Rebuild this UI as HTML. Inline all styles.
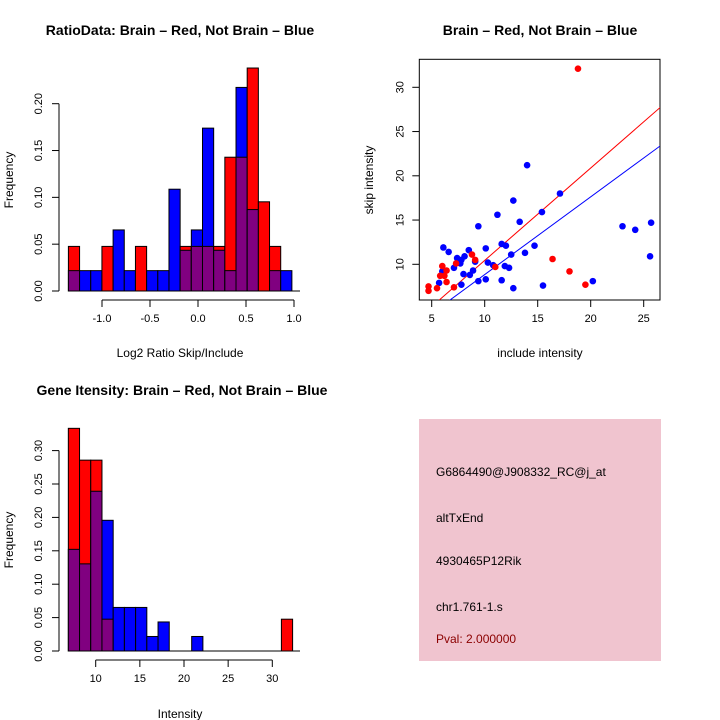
<!DOCTYPE html>
<html><head><meta charset="utf-8"><style>
html,body{margin:0;padding:0;background:#fff;}
svg{display:block;font-family:"Liberation Sans",sans-serif;}
</style></head><body>
<svg id="s" width="720" height="720" viewBox="0 0 720 720">
<rect width="720" height="720" fill="#fff"/>
<text x="180" y="35" text-anchor="middle" font-size="14" font-weight="bold">RatioData: Brain – Red, Not Brain – Blue</text>
<text x="540" y="35" text-anchor="middle" font-size="14" font-weight="bold">Brain – Red, Not Brain – Blue</text>
<text x="182" y="395" text-anchor="middle" font-size="14" font-weight="bold">Gene Itensity: Brain – Red, Not Brain – Blue</text>
<text x="180" y="357" text-anchor="middle" font-size="12">Log2 Ratio Skip/Include</text>
<text x="180" y="718" text-anchor="middle" font-size="12">Intensity</text>
<text x="540" y="357" text-anchor="middle" font-size="12">include intensity</text>
<text transform="translate(13,180) rotate(-90)" text-anchor="middle" font-size="12">Frequency</text>
<text transform="translate(13,540) rotate(-90)" text-anchor="middle" font-size="12">Frequency</text>
<text transform="translate(373,180) rotate(-90)" text-anchor="middle" font-size="12">skip intensity</text>
<g>
<rect x="419" y="419" width="242" height="242" fill="#f0c4cf"/>
<text x="436" y="476" font-size="12">G6864490@J908332_RC@j_at</text>
<text x="436" y="522" font-size="12">altTxEnd</text>
<text x="436" y="565" font-size="12">4930465P12Rik</text>
<text x="436" y="611" font-size="12">chr1.761-1.s</text>
<text x="436" y="643" font-size="12" fill="#8b0000">Pval: 2.000000</text>
</g>
<g id="g1"></g><g id="g2"></g><g id="g3"></g>
</svg>
<script>
// Ratio histogram data (counts; red n=21, blue n=46)
const ratioStart = -1.35;
const ratioWidth = 0.1164;
const ratioRedCounts = [1,0,0,1,0,0,1,0,0,0,1,1,1,1,3,3,5,2,1,0];
const ratioBlueCounts = [1,1,1,0,3,1,0,1,1,5,2,3,8,2,1,10,4,0,1,1];
const ratioXTicks = [-1.0,-0.5,0.0,0.5,1.0];
const ratioXTickLabels = ["-1.0","-0.5","0.0","0.5","1.0"];
const ratioYTicks = [0,0.05,0.10,0.15,0.20];
const ratioYTickLabels = ["0.00","0.05","0.10","0.15","0.20"];
// Intensity histogram
const intStart = 6.9;
const intWidth = 1.27;
const intRedCounts = [7,6,6,1,0,0,0,0,0,0,0,0,0,0,0,0,0,0,0,1];
const intBlueCounts = [7,6,11,9,3,3,3,1,2,0,0,1,0,0,0,0,0,0,0,0];
const intXTicks = [10,15,20,25,30];
const intXTickLabels = ["10","15","20","25","30"];
const intYTicks = [0,0.05,0.10,0.15,0.20,0.25,0.30];
const intYTickLabels = ["0.00","0.05","0.10","0.15","0.20","0.25","0.30"];
// Scatter data
const blueX = [6.1,6.6,6.0,5.7,7.1,7.4,7.7,7.8,8.1,8.5,8.0,8.6,8.9,7.8,9.1,9.4,9.4,10.1,10.1,10.3,10.8,11.2,11.6,12.0,11.9,12.3,11.6,12.7,12.5,12.7,13.3,13.8,14.0,14.7,15.4,15.5,17.1,20.2,23.0,24.2,25.7,25.6];
const blueY = [11.9,11.4,9.2,7.9,9.6,10.7,10.1,10.5,10.9,11.6,8.9,8.8,9.3,7.7,10.3,14.3,8.1,11.8,8.3,10.2,9.9,15.6,12.3,12.1,9.8,9.6,8.2,17.2,11.1,7.3,14.8,11.3,21.2,12.1,15.9,7.6,18.0,8.1,14.3,13.9,14.7,10.9];
const redX = [18.8,4.7,4.7,5.5,6.0,5.8,6.2,6.4,6.4,7.1,7.3,8.8,9.1,11.0,16.4,18.0,19.5];
const redY = [32.1,7.5,7.0,7.3,9.8,8.7,8.7,9.3,8.0,7.4,10.1,11.1,10.5,9.7,10.6,9.2,7.7];
const redFit = [0.0,1.044];
const blueFit = [0.06,0.878];
const scXTicks = [5,10,15,20,25];
const scYTicks = [10,15,20,25,30];
const NS="http://www.w3.org/2000/svg";
function mk(parent,tag,attrs){const e=document.createElementNS(NS,tag);for(const k in attrs)e.setAttribute(k,attrs[k]);parent.appendChild(e);return e;}

function hist(g,start,width,red,blue,xs,yBase,pxY,xTicks,xLabels,yTicks,yLabels,prefix){
  const nr=red.reduce((a,b)=>a+b,0), nb=blue.reduce((a,b)=>a+b,0);
  const X=v=>xs.o+(v-xs.v0)*xs.k;
  const Y=v=>yBase-v*pxY;
  for(let i=0;i<red.length;i++){
    const r=red[i]/nr,b=blue[i]/nb;
    const x0=X(start+i*width),x1=X(start+(i+1)*width);
    const mx=Math.max(r,b),mn=Math.min(r,b);
    if(mx>0){
      const e=mk(g,'rect',{x:x0,y:Y(mx),width:x1-x0,height:mx*pxY,fill:r>=b?'#ff0000':'#0000ff',stroke:'#000','stroke-width':1});
      
      
    }
    if(mn>0){
      const e=mk(g,'rect',{x:x0,y:Y(mn),width:x1-x0,height:mn*pxY,fill:'#800080',stroke:'#000','stroke-width':1});
      
      
    }
  }
  mk(g,'line',{x1:X(start),x2:300,y1:yBase,y2:yBase,stroke:'#000'});
  const ax=mk(g,'line',{x1:X(xTicks[0]),x2:X(xTicks[xTicks.length-1]),y1:yBase+9,y2:yBase+9,stroke:'#000'});
  
  
  xTicks.forEach((t,i)=>{mk(g,'line',{x1:X(t),x2:X(t),y1:yBase+9,y2:yBase+16,stroke:'#000'});
    const tx=mk(g,'text',{x:X(t),y:yBase+31,'text-anchor':'middle','font-size':11});tx.textContent=xLabels[i];
    
    });
  mk(g,'line',{x1:59,x2:59,y1:Y(yTicks[0]),y2:Y(yTicks[yTicks.length-1]),stroke:'#000'});
  yTicks.forEach((t,i)=>{mk(g,'line',{x1:52,x2:59,y1:Y(t),y2:Y(t),stroke:'#000'});
    const tx=mk(g,'text',{transform:`translate(42,${Y(t)}) rotate(-90)`,'text-anchor':'middle','font-size':11});tx.textContent=yLabels[i];
    
    });
}
hist(document.getElementById('g1'),ratioStart,ratioWidth,ratioRedCounts,ratioBlueCounts,{o:198,v0:0,k:96},291,936.5,ratioXTicks,ratioXTickLabels,ratioYTicks,ratioYTickLabels,'ratio');
hist(document.getElementById('g3'),intStart,intWidth,intRedCounts,intBlueCounts,{o:95.7,v0:10,k:8.83},651,668,intXTicks,intXTickLabels,intYTicks,intYTickLabels,'intensity');

// scatter
(function(){
  const g=document.getElementById('g2');
  const L=419.3,R=660,T=59.3,B=300;
  const X=v=>431.7+(v-5)*10.6;
  const Y=v=>264.3-(v-10)*8.85;
  const fr=mk(g,'rect',{x:L,y:T,width:R-L,height:B-T,fill:'none',stroke:'#000'});
  
  
  const defs=mk(g,'clipPath',{id:'cp'});mk(defs,'rect',{x:L,y:T,width:R-L,height:B-T});
  scXTicks.forEach(t=>{mk(g,'line',{x1:X(t),x2:X(t),y1:B,y2:B+7,stroke:'#000'});
    const tx=mk(g,'text',{x:X(t),y:B+22,'text-anchor':'middle','font-size':11});tx.textContent=t;
    
    });
  scYTicks.forEach(t=>{mk(g,'line',{x1:L-7,x2:L,y1:Y(t),y2:Y(t),stroke:'#000'});
    const tx=mk(g,'text',{transform:`translate(${L-16},${Y(t)}) rotate(-90)`,'text-anchor':'middle','font-size':11});tx.textContent=t;
    
    });
  const lg=mk(g,'g',{'clip-path':'url(#cp)'});
  const x0=0,x1=30;
  const rl=mk(lg,'line',{x1:X(x0),y1:Y(redFit[0]+redFit[1]*x0),x2:X(x1),y2:Y(redFit[0]+redFit[1]*x1),stroke:'#ff0000','stroke-width':1});
  
  
  const bl=mk(lg,'line',{x1:X(x0),y1:Y(blueFit[0]+blueFit[1]*x0),x2:X(x1),y2:Y(blueFit[0]+blueFit[1]*x1),stroke:'#0000ff','stroke-width':1});
  
  
  blueX.forEach((v,i)=>{const c=mk(g,'circle',{cx:X(v),cy:Y(blueY[i]),r:3.3,fill:'#0000ff'});
    
    });
  redX.forEach((v,i)=>{const c=mk(g,'circle',{cx:X(v),cy:Y(redY[i]),r:3.3,fill:'#ff0000'});
    
    });
})();
</script>
</body></html>
